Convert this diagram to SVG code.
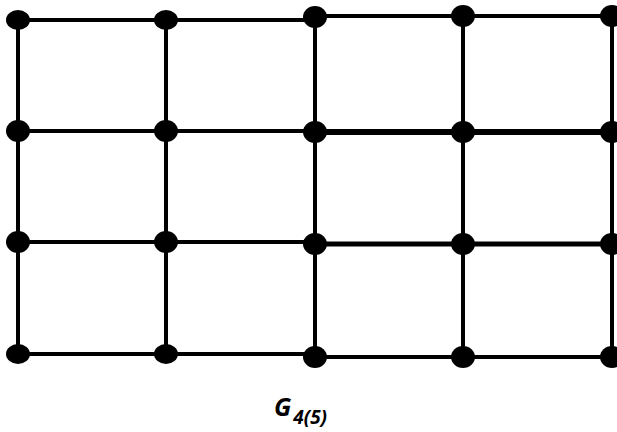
<svg xmlns="http://www.w3.org/2000/svg" width="617" height="432" viewBox="0 0 617 432">
<style>
.e{stroke:#000;stroke-width:4;fill:none}
.n{fill:#000}
.lbl{font-family:"Open Sans","Liberation Sans",Arial,sans-serif;font-weight:bold;font-style:italic;fill:#000}
</style>
<rect width="617" height="432" fill="#fff"/>
<g id="edges">
<line class="e" x1="18" y1="20" x2="315" y2="20"/>
<line class="e" x1="315" y1="16" x2="617" y2="16"/>
<line class="e" x1="18" y1="131" x2="315" y2="131"/>
<line class="e" x1="315" y1="132" x2="617" y2="132" style="stroke-width:6"/>
<line class="e" x1="18" y1="242" x2="315" y2="242"/>
<line class="e" x1="315" y1="244" x2="617" y2="244" style="stroke-width:5"/>
<line class="e" x1="18" y1="354" x2="315" y2="354"/>
<line class="e" x1="315" y1="357" x2="617" y2="357"/>
<line class="e" x1="18" y1="20" x2="18" y2="354"/>
<line class="e" x1="166" y1="20" x2="166" y2="354"/>
<line class="e" x1="315" y1="17" x2="315" y2="357"/>
<line class="e" x1="463" y1="16" x2="463" y2="357"/>
<line class="e" x1="612" y1="16" x2="612" y2="357"/>
</g>
<g id="n11"><ellipse class="n" cx="18" cy="20" rx="12" ry="10"/></g>
<g id="n12"><ellipse class="n" cx="166" cy="20" rx="12" ry="10"/></g>
<g id="n13"><ellipse class="n" cx="315" cy="17" rx="12" ry="11"/></g>
<g id="n14"><ellipse class="n" cx="463" cy="16" rx="12" ry="11"/></g>
<g id="n15"><ellipse class="n" cx="612" cy="16" rx="12" ry="11"/></g>
<g id="n21"><ellipse class="n" cx="18" cy="131" rx="12" ry="11"/></g>
<g id="n22"><ellipse class="n" cx="166" cy="131" rx="12" ry="11"/></g>
<g id="n23"><ellipse class="n" cx="315" cy="132" rx="12" ry="11"/></g>
<g id="n24"><ellipse class="n" cx="463" cy="132" rx="12" ry="11"/></g>
<g id="n25"><ellipse class="n" cx="612" cy="132" rx="12" ry="11"/></g>
<g id="n31"><ellipse class="n" cx="18" cy="242" rx="12" ry="11"/></g>
<g id="n32"><ellipse class="n" cx="166" cy="242" rx="12" ry="11"/></g>
<g id="n33"><ellipse class="n" cx="315" cy="244" rx="12" ry="11"/></g>
<g id="n34"><ellipse class="n" cx="463" cy="244" rx="12" ry="11"/></g>
<g id="n35"><ellipse class="n" cx="612" cy="244" rx="12" ry="11"/></g>
<g id="n41"><ellipse class="n" cx="18" cy="354" rx="12" ry="10"/></g>
<g id="n42"><ellipse class="n" cx="166" cy="354" rx="12" ry="10"/></g>
<g id="n43"><ellipse class="n" cx="315" cy="357" rx="12" ry="11"/></g>
<g id="n44"><ellipse class="n" cx="463" cy="357" rx="12" ry="11"/></g>
<g id="n45"><ellipse class="n" cx="612" cy="357" rx="12" ry="11"/></g>
<g id="label">
<text class="lbl" x="274" y="416" font-size="25">G<tspan font-size="19" dx="2" dy="8">4(5)</tspan></text>
</g>
</svg>
